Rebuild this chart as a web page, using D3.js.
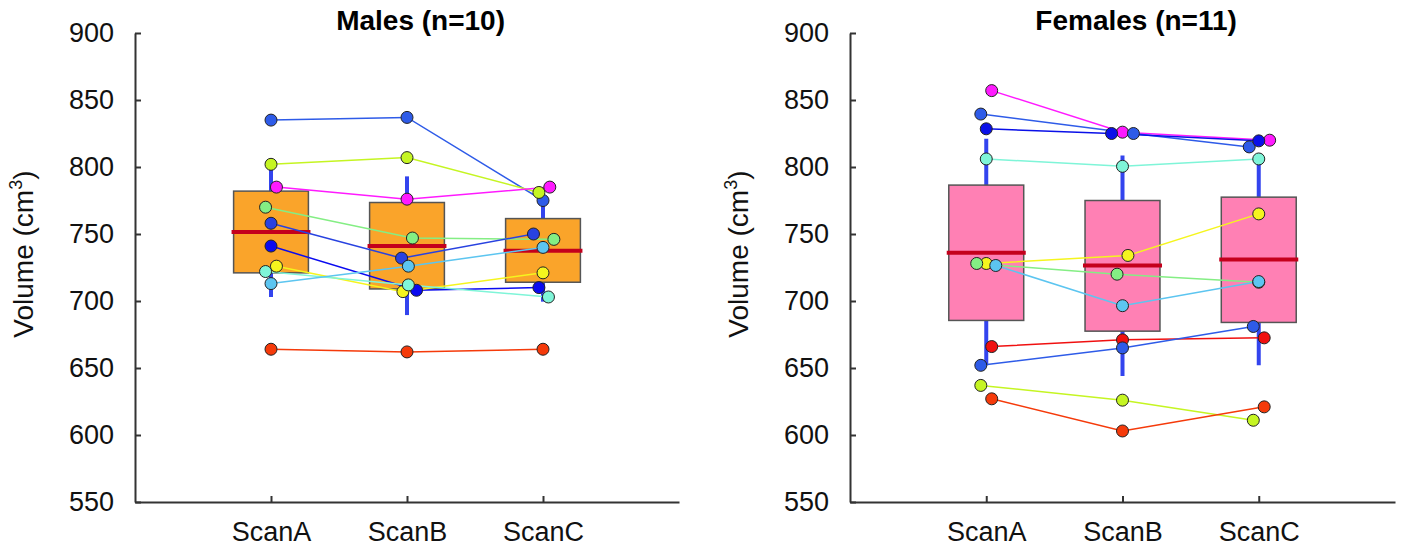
<!DOCTYPE html>
<html lang="en">

<head>
	<meta charset="UTF-8">
	<title>Volume by scan</title>
	<script src="https://d3js.org/d3.v7.min.js"></script>
	<style>
		body {
			margin: 0;
			padding: 0;
			background: #fff;
		}

		text {
			font-family: "Liberation Sans", Arial, sans-serif;
		}
	</style>
</head>

<body>
	<div id="chart"></div>
	<script>
		// categories and ticks
		const scans = ["ScanA", "ScanB", "ScanC"];
		const yTicks = [550, 600, 650, 700, 750, 800, 850, 900];

		// males: one row per subject, values for ScanA, ScanB, ScanC
		const maleValues = [
			[835, 837, 775],
			[802, 807, 781],
			[785, 776, 785],
			[770, 747, 746],
			[758, 732, 750],
			[741, 708, 710],
			[726, 707, 721],
			[722, 712, 703],
			[713, 726, 740],
			[664, 662, 664]
		];
		const maleColors = ["#2e5be8", "#c5f522", "#ff1aff", "#84ee84", "#2842e0", "#0a0af0", "#f5f51e", "#7ff5d8", "#5cc5f0", "#f53a0a"];
		const maleJitter = [
			[0, 0, 0], [0, 0, -0.03], [0.04, 0, 0.05], [-0.04, 0.04, 0.08], [0, -0.04, -0.07],
			[0, 0.07, -0.03], [0.04, -0.03, 0], [-0.04, 0.01, 0.04], [0, 0.01, 0], [0, 0, 0]
		];
		const maleQ1 = [721, 709, 714];
		const maleMedian = [751.5, 741, 737.5];
		const maleQ3 = [782, 773.5, 761.5];
		const maleLow = [703, 689.5, 699.5];
		const maleHigh = [802, 793, 775];

		// females
		const femaleValues = [
			[857, 826, 820],
			[839.5, 825, 815],
			[828.5, 825, 819.5],
			[806, 800.5, 806],
			[728, 734, 765],
			[728, 720, 714],
			[726.5, 696.5, 714.5],
			[666, 671, 672.5],
			[652, 665, 681],
			[637, 626, 611],
			[627, 603, 621]
		];
		const femaleColors = ["#ff1aff", "#2e5be8", "#0a10e8", "#7ff5d8", "#f5f51e", "#84ee84", "#5cc5f0", "#f01010", "#2e5be8", "#c5f522", "#f53a0a"];
		const femaleJitter = [
			[0.04, 0, 0.08], [-0.04, 0.08, -0.07], [0, -0.08, 0], [0, 0, 0], [0, 0.04, 0], [-0.07, -0.04, 0],
			[0.07, 0, 0], [0.04, 0, 0.04], [-0.04, 0, -0.04], [-0.04, 0, -0.04], [0.04, 0, 0.04]
		];
		const femaleQ1 = [685.5, 677.5, 684];
		const femaleMedian = [736, 726.5, 731];
		const femaleQ3 = [786.5, 775, 777.5];
		const femaleLow = [652, 644, 652];
		const femaleHigh = [821, 808.5, 806];

		const width = 1401, height = 546;

		const svg = d3.select("#chart")
			.append("svg")
			.attr("width", width)
			.attr("height", height);

		const panels = [
			{ title: "Males (n=10)", left: 135, right: 679, fill: "#faa42a", values: maleValues, colors: maleColors, jitter: maleJitter, q1: maleQ1, med: maleMedian, q3: maleQ3, lo: maleLow, hi: maleHigh },
			{ title: "Females (n=11)", left: 850, right: 1395, fill: "#ff80b4", values: femaleValues, colors: femaleColors, jitter: femaleJitter, q1: femaleQ1, med: femaleMedian, q3: femaleQ3, lo: femaleLow, hi: femaleHigh }
		];

		const plotTop = 33, plotBottom = 502;

		const y = d3.scaleLinear()
			.domain([550, 900])
			.range([plotBottom, plotTop]);

		panels.forEach(p => {
			const x = d3.scaleLinear()
				.domain([0, 4])
				.range([p.left, p.right]);

			const g = svg.append("g");

			// whiskers
			g.selectAll(".whisker")
				.data(scans)
				.enter().append("line")
				.attr("x1", (d, i) => x(i + 1))
				.attr("x2", (d, i) => x(i + 1))
				.attr("y1", (d, i) => y(p.lo[i]))
				.attr("y2", (d, i) => y(p.hi[i]))
				.attr("stroke", "#3344ee")
				.attr("stroke-width", 4);

			// boxes
			g.selectAll(".box")
				.data(scans)
				.enter().append("rect")
				.attr("x", (d, i) => x(i + 1 - 0.275))
				.attr("width", x(0.55) - x(0))
				.attr("y", (d, i) => y(p.q3[i]))
				.attr("height", (d, i) => y(p.q1[i]) - y(p.q3[i]))
				.attr("fill", p.fill)
				.attr("stroke", "#555")
				.attr("stroke-width", 1.5);

			// medians
			g.selectAll(".median")
				.data(scans)
				.enter().append("line")
				.attr("x1", (d, i) => x(i + 1 - 0.29))
				.attr("x2", (d, i) => x(i + 1 + 0.29))
				.attr("y1", (d, i) => y(p.med[i]))
				.attr("y2", (d, i) => y(p.med[i]))
				.attr("stroke", "#c4001c")
				.attr("stroke-width", 4);

			// subject lines
			const line = d3.line()
				.x(d => x(d.pos))
				.y(d => y(d.v));

			const subjects = p.values.map((vals, s) => vals.map((v, i) => ({ v: v, pos: i + 1 + p.jitter[s][i], color: p.colors[s] })));

			g.selectAll(".subject")
				.data(subjects)
				.enter().append("path")
				.attr("d", line)
				.attr("fill", "none")
				.attr("stroke", d => d[0].color)
				.attr("stroke-width", 1.5);

			g.selectAll(".dot")
				.data(subjects.flat())
				.enter().append("circle")
				.attr("cx", d => x(d.pos))
				.attr("cy", d => y(d.v))
				.attr("r", 6)
				.attr("fill", d => d.color)
				.attr("stroke", "#222")
				.attr("stroke-width", 1);

			// axes
			const yAxis = d3.axisLeft(y)
				.tickValues(yTicks)
				.tickSizeInner(-6)
				.tickSizeOuter(0)
				.tickPadding(21);

			const xAxis = d3.axisBottom(x)
				.tickValues([1, 2, 3])
				.tickFormat(d => scans[d - 1])
				.tickSizeInner(-6)
				.tickSizeOuter(0)
				.tickPadding(20);

			const ya = g.append("g")
				.attr("transform", `translate(${p.left},0)`)
				.call(yAxis);

			const xa = g.append("g")
				.attr("transform", `translate(0,${plotBottom})`)
				.call(xAxis);

			[ya, xa].forEach(a => {
				a.select(".domain").attr("stroke", "#333").attr("stroke-width", 2);
				a.selectAll(".tick line").attr("stroke", "#333").attr("stroke-width", 2);
				a.selectAll("text")
					.attr("fill", "#111")
					.style("font-size", "27px")
					.style("font-family", "'Liberation Sans', Arial, sans-serif");
			});

			// title
			g.append("text")
				.attr("x", x(2.1))
				.attr("y", 30)
				.attr("text-anchor", "middle")
				.style("font-size", "28px")
				.style("font-weight", "bold")
				.text(p.title);

			// y label
			const yl = g.append("text")
				.attr("transform", `translate(${p.left - 102},${y(735)}) rotate(-90)`)
				.attr("text-anchor", "middle")
				.style("font-size", "28px")
				.attr("fill", "#111");
			yl.append("tspan").text("Volume (cm");
			yl.append("tspan").attr("dy", -11).style("font-size", "18px").text("3");
			yl.append("tspan").attr("dy", 11).text(")");
		});
	</script>

</body>

</html>
